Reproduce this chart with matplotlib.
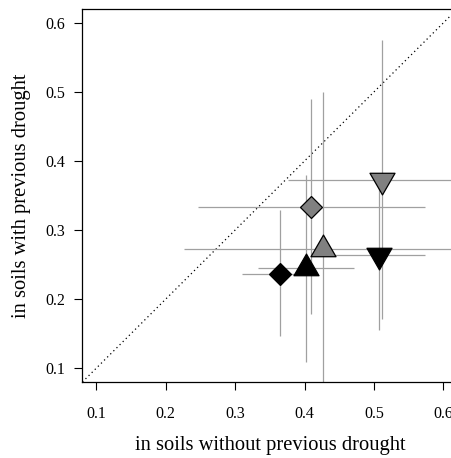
import matplotlib
matplotlib.use("Agg")
import matplotlib.pyplot as plt
from matplotlib.path import Path
import numpy as np

plt.rcParams['font.family'] = ['Liberation Serif', 'DejaVu Serif']

# Data (x: without previous drought, y: with previous drought)
labels = ["black diamond", "black up", "black down", "grey diamond", "grey up", "grey down"]
x_val = [0.365, 0.4026, 0.5073, 0.4098, 0.4271, 0.5121]
y_val = [0.237, 0.2447, 0.2642, 0.3338, 0.272, 0.373]
x_lo = [0.310, 0.3334, 0.444, 0.2461, 0.2268, 0.3767]
x_hi = [0.395, 0.4718, 0.573, 0.5741, 0.66, 0.66]
y_lo = [0.146, 0.109, 0.156, 0.1786, 0.03, 0.1716]
y_hi = [0.3285, 0.3797, 0.362, 0.489, 0.500, 0.575]
fills = ["black", "black", "black", "#808080", "#808080", "#808080"]
shapes = ["diamond", "up", "down", "diamond", "up", "down"]

xticks = [0.1, 0.2, 0.3, 0.4, 0.5, 0.6]
yticks = [0.1, 0.2, 0.3, 0.4, 0.5, 0.6]

s3 = np.sqrt(3) / 2
tri_up = Path([(0, 1), (-s3, -0.5), (s3, -0.5), (0, 1)],
              [Path.MOVETO, Path.LINETO, Path.LINETO, Path.CLOSEPOLY])
tri_down = Path([(0, -1), (-s3, 0.5), (s3, 0.5), (0, -1)],
                [Path.MOVETO, Path.LINETO, Path.LINETO, Path.CLOSEPOLY])
marker_map = {"diamond": ("D", 11.4), "up": (tri_up, 20.8), "down": (tri_down, 20.8)}

W, H = 451, 458
fig = plt.figure(figsize=(W / 100, H / 100), dpi=100)
left, right, bottom, top = 82.4, 457.3, 382, 9
ax = fig.add_axes([left / W, 1 - bottom / H, (right - left) / W, (bottom - top) / H])
ax.set_xlim(0.08, 0.62)
ax.set_ylim(0.08, 0.62)

# 1:1 line
ax.plot([0.08, 0.62], [0.08, 0.62], linestyle=(0, (1, 2.5)), color="black", lw=0.9, zorder=1)

errc = "#a0a0a0"
for i in range(len(x_val)):
    ax.plot([x_lo[i], x_hi[i]], [y_val[i], y_val[i]], color=errc, lw=0.9, zorder=2, solid_capstyle="butt")
    ax.plot([x_val[i], x_val[i]], [y_lo[i], y_hi[i]], color=errc, lw=0.9, zorder=2, solid_capstyle="butt")

for i in range(len(x_val)):
    m, ms = marker_map[shapes[i]]
    ax.plot([x_val[i]], [y_val[i]], marker=m, markersize=ms, markerfacecolor=fills[i],
            markeredgecolor="black", markeredgewidth=0.9, linestyle="none", zorder=3)

ax.set_xticks(xticks)
ax.set_yticks(yticks)
ax.set_xticklabels([f"{t:.1f}" for t in xticks])
ax.set_yticklabels([f"{t:.1f}" for t in yticks])
ax.tick_params(axis="both", direction="out", length=5.5, width=0.8, labelsize=11.5, pad=12)
ax.tick_params(axis="y", pad=7)
for sp in ax.spines.values():
    sp.set_linewidth(0.9)

ax.set_xlabel("in soils without previous drought", fontsize=14.8, labelpad=10)
ax.set_ylabel("in soils with previous drought", fontsize=14.8, labelpad=10)

fig.savefig("out.png", dpi=100)
